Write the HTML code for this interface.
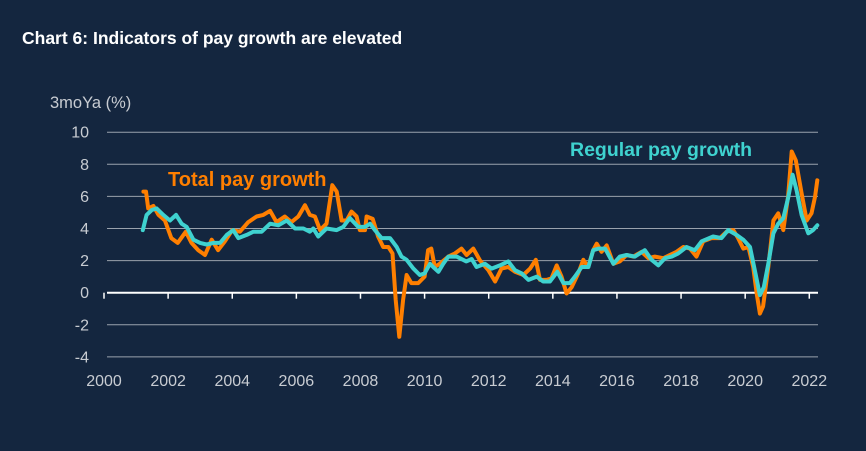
<!DOCTYPE html>
<html><head><meta charset="utf-8"><style>
html,body{margin:0;padding:0;background:#14263f;}
svg{display:block;font-family:"Liberation Sans",Arial,sans-serif;}
</style></head><body>
<svg id="chart" width="866" height="451" viewBox="0 0 866 451">
<rect width="866" height="451" fill="#14263f"/>
<text x="22" y="44" fill="#ffffff" font-size="17.5" font-weight="bold">Chart 6: Indicators of pay growth are elevated</text>
<text x="50" y="108" fill="#c8ccd2" font-size="16.5">3moYa (%)</text>
<g id="grid"></g><g id="series"></g>
<text x="168" y="186" fill="#ff7f00" font-size="20" font-weight="bold">Total pay growth</text>
<text x="570" y="156" fill="#3fd2cf" font-size="19.5" font-weight="bold">Regular pay growth</text>
</svg>
<script>
const yTicks=[-4,-2,0,2,4,6,8,10];
const xTicks=[2000,2002,2004,2006,2008,2010,2012,2014,2016,2018,2020,2022];
const totalDates=[2001.23,2001.31,2001.38,2001.54,2001.7,2001.9,2002.1,2002.3,2002.55,2002.73,2002.94,2003.15,2003.36,2003.56,2003.77,2004.0,2004.24,2004.5,2004.76,2004.97,2005.18,2005.38,2005.64,2005.85,2006.06,2006.27,2006.42,2006.58,2006.74,2006.94,2007.12,2007.26,2007.41,2007.57,2007.72,2007.88,2007.98,2008.14,2008.19,2008.38,2008.55,2008.71,2008.87,2009.0,2009.1,2009.21,2009.33,2009.44,2009.59,2009.8,2010.0,2010.11,2010.21,2010.32,2010.47,2010.74,2010.95,2011.15,2011.31,2011.52,2011.73,2011.99,2012.2,2012.4,2012.61,2012.82,2013.08,2013.29,2013.47,2013.6,2013.81,2013.96,2014.12,2014.27,2014.43,2014.59,2014.79,2014.95,2015.1,2015.26,2015.37,2015.52,2015.68,2015.89,2016.09,2016.3,2016.51,2016.77,2016.98,2017.18,2017.45,2017.65,2017.86,2018.07,2018.28,2018.48,2018.69,2018.95,2019.21,2019.42,2019.63,2019.78,2019.94,2020.1,2020.25,2020.36,2020.46,2020.56,2020.72,2020.88,2021.03,2021.19,2021.34,2021.45,2021.58,2021.76,2021.92,2022.07,2022.18,2022.25];
const totalValues=[6.3,6.3,5.25,5.4,4.85,4.5,3.4,3.1,3.8,3.1,2.65,2.35,3.3,2.65,3.2,3.9,3.8,4.4,4.75,4.85,5.1,4.4,4.75,4.4,4.75,5.45,4.85,4.75,3.9,4.3,6.7,6.3,4.5,4.5,5.05,4.75,3.9,3.9,4.75,4.6,3.5,2.85,2.85,2.45,-0.45,-2.75,-0.45,1.1,0.6,0.6,1.0,2.65,2.75,1.6,1.8,2.25,2.45,2.75,2.35,2.75,2.0,1.4,0.7,1.5,1.6,1.3,1.1,1.5,2.05,0.8,0.8,0.9,1.7,1.0,-0.05,0.35,1.2,2.05,1.6,2.65,3.05,2.55,2.95,1.8,1.95,2.35,2.25,2.55,2.15,2.25,2.15,2.35,2.55,2.85,2.75,2.25,3.2,3.4,3.4,3.8,3.9,3.4,2.75,2.85,1.6,-0.05,-1.3,-0.85,1.6,4.5,4.95,3.9,6.0,8.8,8.25,6.2,4.5,4.95,6.0,7.0];
const regularDates=[2001.21,2001.33,2001.49,2001.64,2001.85,2002.06,2002.25,2002.42,2002.58,2002.79,2003.0,2003.2,2003.41,2003.62,2003.83,2004.03,2004.19,2004.45,2004.66,2004.92,2005.18,2005.44,2005.7,2005.96,2006.22,2006.42,2006.53,2006.68,2006.94,2007.26,2007.46,2007.67,2007.93,2008.14,2008.3,2008.45,2008.66,2008.92,2009.13,2009.28,2009.44,2009.65,2009.85,2010.0,2010.17,2010.27,2010.43,2010.58,2010.74,2011.0,2011.3,2011.47,2011.62,2011.88,2012.09,2012.35,2012.61,2012.82,2013.03,2013.24,2013.5,2013.7,2013.91,2014.14,2014.33,2014.53,2014.69,2014.9,2015.11,2015.26,2015.42,2015.63,2015.89,2016.09,2016.3,2016.56,2016.87,2017.08,2017.29,2017.5,2017.71,2017.91,2018.17,2018.43,2018.64,2019.0,2019.26,2019.47,2019.73,2019.94,2020.15,2020.3,2020.46,2020.58,2020.72,2020.88,2021.03,2021.19,2021.34,2021.48,2021.6,2021.76,2021.97,2022.12,2022.25];
const regularValues=[3.9,4.85,5.15,5.25,4.85,4.5,4.85,4.3,4.1,3.3,3.1,3.0,3.1,3.1,3.6,3.9,3.4,3.6,3.8,3.8,4.3,4.2,4.5,4.0,4.0,3.8,4.0,3.5,4.0,3.9,4.1,4.65,4.1,4.1,4.3,3.9,3.4,3.4,2.85,2.25,2.05,1.5,1.1,1.2,1.8,1.6,1.3,1.8,2.25,2.25,1.95,2.1,1.6,1.8,1.5,1.7,1.95,1.4,1.2,0.8,1.0,0.7,0.7,1.3,0.6,0.6,1.0,1.6,1.6,2.65,2.75,2.75,1.8,2.25,2.35,2.25,2.65,2.05,1.7,2.15,2.25,2.45,2.85,2.65,3.2,3.5,3.4,3.9,3.6,3.3,2.85,1.4,-0.15,0.35,1.8,3.7,4.3,4.65,5.9,7.35,6.4,4.85,3.7,3.9,4.2];

const NS="http://www.w3.org/2000/svg";
const X0=104,X1=809.3,Y0=292.7,PX=(X1-X0)/22,PY=16.05,RIGHT=818;
const xs=v=>X0+(v-2000)*PX, ys=v=>Y0-v*PY;
const grid=document.getElementById('grid'), ser=document.getElementById('series');
function mk(tag,attrs,parent){const e=document.createElementNS(NS,tag);for(const k in attrs)e.setAttribute(k,attrs[k]);parent.appendChild(e);return e;}
yTicks.forEach(t=>{
  const l=mk('line',{x1:107,x2:RIGHT,y1:ys(t),y2:ys(t),stroke:t===0?'#ffffff':'#9aa2ad','stroke-width':t===0?2:1},grid);
  
  
  const tx=mk('text',{x:89,y:ys(t)+5.5,fill:'#c8ccd2','font-size':16,'text-anchor':'end'},grid);
  tx.textContent=t;
  
  
});
xTicks.forEach(t=>{
  const l=mk('line',{x1:xs(t),x2:xs(t),y1:Y0,y2:Y0+6,stroke:'#ffffff','stroke-width':1.5},grid);
  
  
  const tx=mk('text',{x:xs(t),y:386,fill:'#c8ccd2','font-size':16,'text-anchor':'middle'},grid);
  tx.textContent=t;
  
  
});
function line(d,v,color,name){
  const p=d.map((x,i)=>(i?'L':'M')+xs(x).toFixed(1)+','+ys(v[i]).toFixed(1)).join('');
  const e=mk('path',{d:p,fill:'none',stroke:color,'stroke-width':4,'stroke-linejoin':'round','stroke-linecap':'round'},ser);
  
  
}
line(totalDates,totalValues,'#ff7f00','total-pay-line');
line(regularDates,regularValues,'#3fd2cf','regular-pay-line');
</script>
</body></html>
